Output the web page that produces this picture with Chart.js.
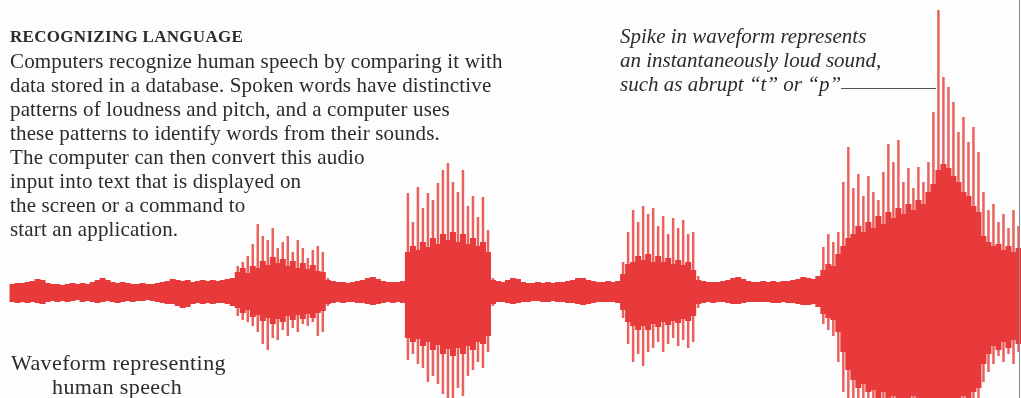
<!doctype html>
<html lang="en">
  <head>
    <meta charset="utf-8">
    <title>Recognizing Language</title>
    <script src="https://cdn.jsdelivr.net/npm/chart.js"></script>
    <style>
        html, body { margin: 0; padding: 0; background: #fdfdfd; }

        #wrap {
            position: relative;
            width: 1021px;
            height: 398px;
            overflow: hidden;
            font-family: "Liberation Serif", "DejaVu Serif", serif;
            color: #2b2b2b;
        }

        #wave { position: absolute; left: 0; top: 0; }

        .txt { position: absolute; white-space: nowrap; line-height: 24px; }

        #title { left: 10px; top: 25px; font-size: 17px; font-weight: bold; letter-spacing: 0.3px; }
        #intro { left: 10px; top: 49px; font-size: 21px; letter-spacing: 0.15px; }
        #note { left: 620px; top: 24px; font-size: 21px; font-style: italic; }
        #caption { left: 11px; top: 351px; font-size: 22px; letter-spacing: 0.4px; }
        #caption span { padding-left: 41px; }

        #leader {
            position: absolute;
            left: 841px; top: 88px;
            width: 95px; height: 0;
            border-top: 1.5px solid #555;
        }
        #edge {
            position: absolute;
            left: 1019px; top: 0;
            width: 1px; height: 398px;
            background: #8a8a8a;
        }
    </style>
  </head>
  <body>
    <div id="wrap">
        <canvas id="wave" width="1021" height="398"></canvas>

        <div class="txt" id="title">RECOGNIZING LANGUAGE</div>
        <div class="txt" id="intro">
            Computers recognize human speech by comparing it with<br>
            data stored in a database. Spoken words have distinctive<br>
            patterns of loudness and pitch, and a computer uses<br>
            these patterns to identify words from their sounds.<br>
            The computer can then convert this audio<br>
            input into text that is displayed on<br>
            the screen or a command to<br>
            start an application.
        </div>
        <div class="txt" id="note">
            Spike in waveform represents<br>
            an instantaneously loud sound,<br>
            such as abrupt “t” or “p”
        </div>
        <div class="txt" id="caption">Waveform representing<br><span>human speech</span></div>
        <div id="leader"></div>
        <div id="edge"></div>
    </div>

    <script>
        // amplitude above / below the centre line, one value every ~5px along the strip
        const upBody = [
            null,null,8,9,9,10,11,13,12,9,
            8,8,7,8,9,8,9,8,10,12,
            14,12,10,9,10,9,8,8,9,8,
            8,9,10,11,13,12,11,12,10,11,
            12,11,12,11,12,13,14,20,24,19,
            26,24,31,27,35,29,33,26,31,24,
            29,23,27,21,20,12,11,10,10,9,
            10,11,12,14,15,13,11,10,10,10,
            11,40,46,42,50,45,54,48,58,52,
            60,50,58,48,54,46,50,40,12,11,
            10,12,14,13,10,9,9,10,9,10,
            9,10,10,11,12,14,14,12,11,10,
            10,11,10,11,18,28,30,36,32,38,
            30,36,30,34,28,32,27,30,22,12,
            11,10,10,10,11,12,14,15,13,11,
            10,10,11,10,11,10,11,11,12,13,
            15,14,13,16,22,28,26,38,46,54,
            58,66,60,70,64,76,68,80,74,84,
            78,88,82,92,88,100,108,122,128,124,
            116,110,100,96,86,80,56,50,46,48,
            42,46,40,44
        ]
        const dnBody = [
            null,null,10,11,10,11,10,11,12,10,
            9,10,9,10,9,8,10,9,10,11,
            10,9,10,11,10,9,10,9,9,8,
            9,10,11,12,12,14,16,15,12,11,
            12,11,12,11,11,12,14,16,21,18,
            25,23,29,26,32,27,30,24,28,23,
            27,22,26,21,19,12,11,10,11,10,
            10,11,11,12,13,12,11,10,11,10,
            11,46,50,47,54,50,58,53,62,57,
            64,56,62,54,58,50,52,44,12,10,
            10,11,12,11,10,10,9,9,10,10,
            9,10,10,11,11,12,13,12,11,10,
            10,10,10,11,18,30,34,38,34,38,
            32,35,30,33,29,31,27,29,24,12,
            11,10,11,10,10,11,12,12,11,10,
            10,10,10,10,11,11,10,11,11,12,
            13,13,12,15,22,26,28,40,60,78,
            88,96,92,100,98,106,100,106,104,106,
            106,106,104,106,106,106,106,106,106,106,
            106,106,104,106,100,96,72,62,54,58,
            50,56,48,52
        ]
        // thin spikes reaching past the dense part
        const upPeak = [
            null,null,null,null,null,null,null,null,null,null,
            null,null,null,null,null,null,null,null,null,null,
            null,null,null,null,null,null,null,null,null,null,
            null,null,null,null,null,null,null,null,null,null,
            null,null,null,null,null,null,null,26,30,36,
            48,68,56,52,64,44,50,56,40,52,
            44,34,42,46,40,14,null,null,null,null,
            null,null,null,null,null,null,null,null,null,null,
            null,99,70,105,84,99,92,109,122,129,
            110,100,122,86,96,75,95,62,14,null,
            null,null,null,null,null,null,null,null,null,null,
            null,null,null,null,null,null,null,null,null,null,
            null,null,null,null,30,60,82,70,86,78,
            84,66,76,58,74,64,72,58,60,16,
            null,null,null,null,null,null,null,null,null,null,
            null,null,null,null,null,null,null,null,null,null,
            null,null,null,null,45,58,50,60,110,145,
            104,118,96,116,100,92,120,148,130,152,
            110,124,104,125,110,130,180,282,215,205,
            190,160,175,150,165,140,100,82,88,70,
            78,64,82,66
        ]
        const dnPeak = [
            null,null,null,null,null,null,null,null,null,null,
            null,null,null,null,null,null,null,null,null,null,
            null,null,null,null,null,null,null,null,null,null,
            null,null,null,null,null,null,null,null,null,null,
            null,null,null,null,null,null,null,24,28,30,
            34,40,52,58,46,48,38,44,36,40,
            32,34,30,44,40,14,null,null,null,null,
            null,null,null,null,null,null,null,null,null,null,
            null,68,62,72,76,90,84,92,102,106,
            106,96,104,84,78,70,76,60,14,null,
            null,null,null,null,null,null,null,null,null,null,
            null,null,null,null,null,null,null,null,null,null,
            null,null,null,null,26,52,70,62,74,60,
            56,50,60,52,46,54,48,56,50,16,
            null,null,null,null,null,null,null,null,null,null,
            null,null,null,null,null,null,null,null,null,null,
            null,null,null,null,32,38,44,70,100,106,
            106,106,106,106,106,106,106,106,106,106,
            106,106,106,106,106,106,106,106,106,106,
            106,106,106,106,106,106,90,80,72,64,
            70,62,72,60
        ]
        const samples = upBody.map((_, i) => i * 5)

        const span = (up, dn) => up.map((u, i) => (u === null ? null : [-dn[i], u]))

        new Chart(document.getElementById('wave'), {
            type: 'bar',
            data: {
                labels: samples,
                datasets: [
                    {
                        data: span(upPeak, dnPeak),
                        backgroundColor: 'rgba(230, 70, 66, 0.85)',
                        barPercentage: 0.5,
                        categoryPercentage: 1,
                        grouped: false,
                        order: 2
                    },
                    {
                        data: span(upBody, dnBody),
                        backgroundColor: 'rgb(232, 58, 58)',
                        barPercentage: 1.2,
                        categoryPercentage: 1,
                        grouped: false,
                        order: 1
                    }
                ]
            },
            options: {
                responsive: false,
                animation: false,
                layout: { padding: 0 },
                plugins: {
                    legend: { display: false },
                    tooltip: { enabled: false }
                },
                scales: {
                    x: { display: false },
                    y: { display: false, min: -106, max: 292 }
                }
            }
        });
    </script>
  </body>
</html>
